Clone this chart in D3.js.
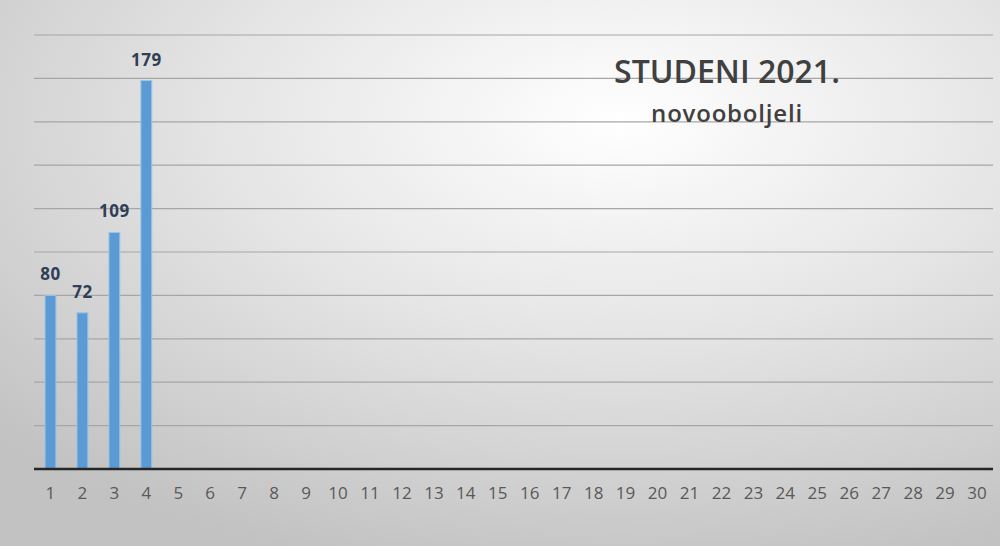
<!DOCTYPE html>
<html>
<head>
<meta charset="utf-8">
<script src="https://cdn.jsdelivr.net/npm/d3@7"></script>
<style>
  body { margin: 0; overflow: hidden; }
</style>
</head>
<body>
<div id="container"></div>
<script>
// data
let days = d3.range(1, 31).map(String);
let cases = [80, 72, 109, 179];
let yTicks = [0, 20, 40, 60, 80, 100, 120, 140, 160, 180, 200];

let W = 1000, H = 546;

let viz = d3.select("#container")
  .append("svg")
    .attr("width", W)
    .attr("height", H)
;

// background
let defs = viz.append("defs");
let grad = defs.append("radialGradient")
    .attr("id", "bg")
    .attr("cx", "62%")
    .attr("cy", "22%")
    .attr("r", "85%")
;
grad.append("stop").attr("offset", "0%").attr("stop-color", "#ffffff");
grad.append("stop").attr("offset", "45%").attr("stop-color", "#e6e6e6");
grad.append("stop").attr("offset", "100%").attr("stop-color", "#c2c2c2");

viz.append("rect")
    .attr("width", W)
    .attr("height", H)
    .attr("fill", "url(#bg)")
;

// scales
let x = d3.scaleBand()
    .domain(days)
    .range([34.5, 993])
    .paddingInner(0.66)
    .paddingOuter(0.33)
;

let y = d3.scaleLinear()
    .domain([0, 200])
    .range([469, 35])
;

// gridlines
viz.append("g")
    .selectAll("line")
    .data(yTicks.slice(1))
    .join("line")
      .attr("x1", 34)
      .attr("x2", 993)
      .attr("y1", d => y(d))
      .attr("y2", d => y(d))
      .attr("stroke", "#a6a6a6")
      .attr("stroke-width", 1.2)
;

// bars
viz.append("g")
    .selectAll("rect")
    .data(cases)
    .join("rect")
      .attr("x", (d, i) => x(days[i]))
      .attr("y", d => y(d))
      .attr("width", x.bandwidth())
      .attr("height", d => y(0) - y(d))
      .attr("fill", "#5b9bd5")
      .attr("stroke", "#9dc3e6")
      .attr("stroke-width", 1)
;

// value labels
viz.append("g")
    .selectAll("text")
    .data(cases)
    .join("text")
      .text(d => d)
      .attr("x", (d, i) => x(days[i]) + x.bandwidth() / 2)
      .attr("y", d => y(d) - 15)
      .attr("text-anchor", "middle")
      .attr("font-family", "'Open Sans', sans-serif")
      .attr("font-weight", "bold")
      .attr("font-size", 17)
      .attr("letter-spacing", 0.5)
      .attr("fill", "#2e3f57")
;

// x axis
let xAxis = viz.append("g")
    .attr("transform", "translate(0," + y(0) + ")")
    .call(d3.axisBottom(x).tickSize(0).tickPadding(18))
;
xAxis.select(".domain")
    .attr("d", "M34,0H993")
    .attr("stroke", "#262626")
    .attr("stroke-width", 2.5)
;
xAxis.selectAll("text")
    .attr("font-family", "'Open Sans', sans-serif")
    .attr("font-size", 17)
    .attr("fill", "#595959")
;

// title
viz.append("text")
    .text("STUDENI 2021.")
    .attr("x", 727)
    .attr("y", 83)
    .attr("text-anchor", "middle")
    .attr("font-family", "'Open Sans', sans-serif")
    .attr("font-weight", 600)
    .attr("font-size", 32)
    .attr("fill", "#404040")
;

viz.append("text")
    .text("novooboljeli")
    .attr("x", 727)
    .attr("y", 122)
    .attr("text-anchor", "middle")
    .attr("font-family", "'Open Sans', sans-serif")
    .attr("font-weight", 600)
    .attr("font-size", 24)
    .attr("letter-spacing", 0.8)
    .attr("fill", "#404040")
;
</script>
</body>
</html>
